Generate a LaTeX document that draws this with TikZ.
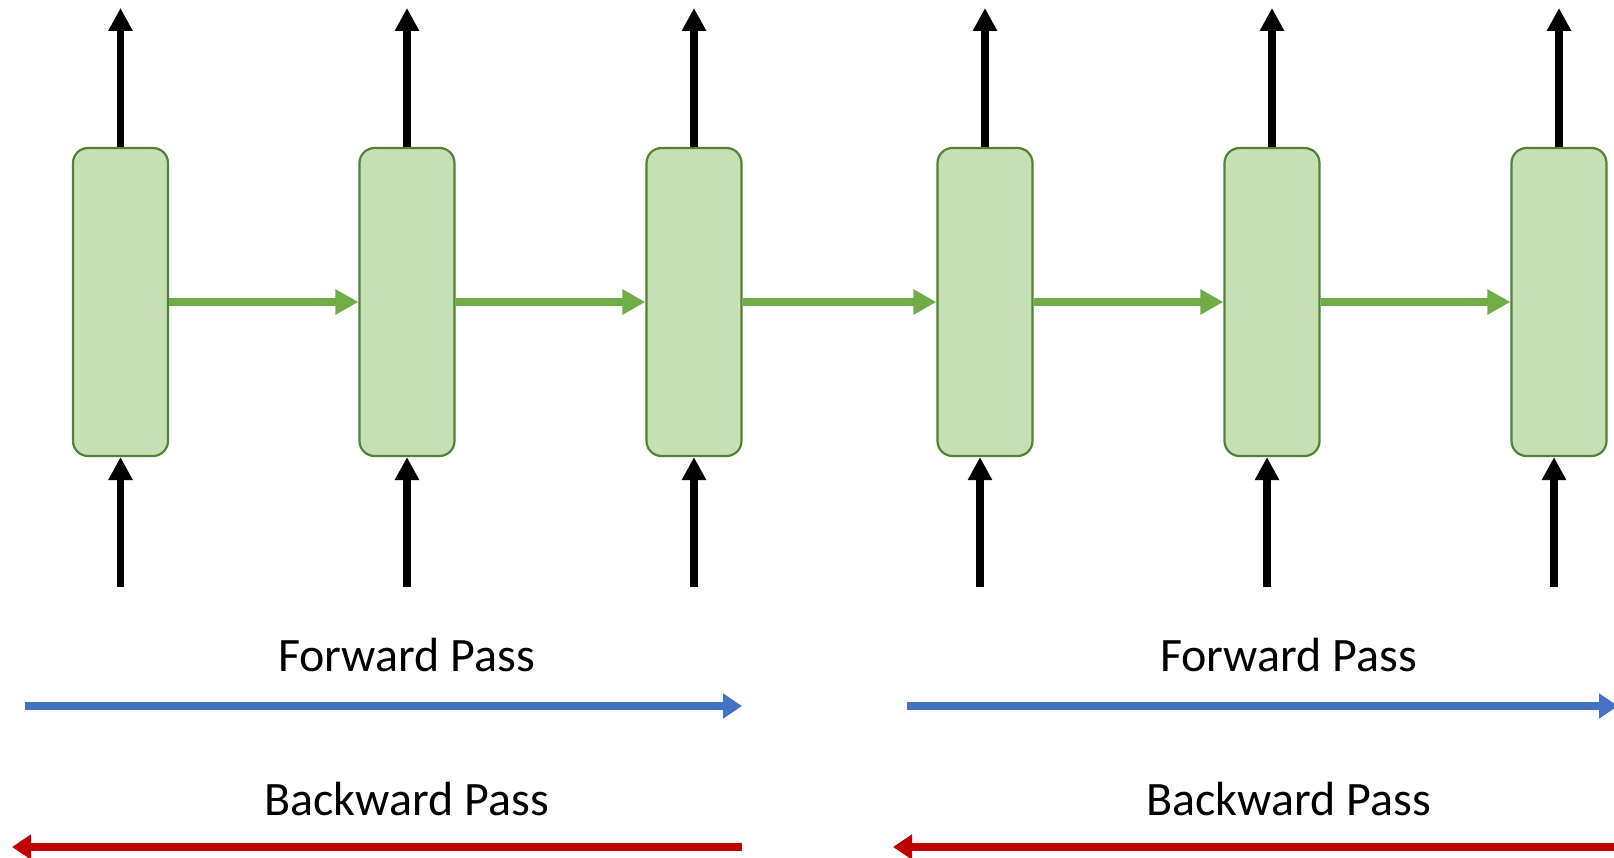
\documentclass[tikz,border=0pt]{standalone}
\usepackage{fontspec}
\setmainfont{Carlito}
\usetikzlibrary{arrows.meta}

\definecolor{zellgruen}{HTML}{C5E0B4}
\definecolor{randgruen}{HTML}{538135}
\definecolor{pfeilgruen}{HTML}{70AD47}
\definecolor{vorblau}{HTML}{4472C4}
\definecolor{rueckrot}{HTML}{C00000}

\begin{document}
\begin{tikzpicture}[x=1pt, y=-1pt]
  \useasboundingbox (0, 0) rectangle (1614, 858);

  % Zellen.
  \tikzstyle{zelle}=[draw=randgruen, fill=zellgruen, line width=2.2pt, rounded corners=15pt,
    minimum width=95pt, minimum height=308pt, inner sep=0pt]
  \tikzstyle{io}=[line width=7.5pt, -{Triangle[width=23pt, length=23pt]}]
  \tikzstyle{zustand}=[pfeilgruen, line width=7.7pt, -{Triangle[width=24pt, length=23pt]}]
  \tikzstyle{pass}=[line width=7.7pt, -{Triangle[width=24pt, length=19pt]}]
  \tikzstyle{beschriftung}=[font=\fontsize{48}{58}\selectfont, inner sep=0pt]

  \node[zelle] (c1) at (120.5, 302) {};
  \node[zelle] (c2) at (407, 302) {};
  \node[zelle] (c3) at (694, 302) {};
  \node[zelle] (c4) at (985, 302) {};
  \node[zelle] (c5) at (1272, 302) {};
  \node[zelle] (c6) at (1559, 302) {};

  % Ausgaben.
  \coordinate (o1) at (120.5, 8);
  \coordinate (o2) at (407, 8);
  \coordinate (o3) at (694, 8);
  \coordinate (o4) at (985, 8);
  \coordinate (o5) at (1272, 8);
  \coordinate (o6) at (1559, 8);

  \draw[io] (c1.north) -- (o1);
  \draw[io] (c2.north) -- (o2);
  \draw[io] (c3.north) -- (o3);
  \draw[io] (c4.north) -- (o4);
  \draw[io] (c5.north) -- (o5);
  \draw[io] (c6.north) -- (o6);

  % Eingaben.
  \coordinate (i1) at (120.5, 587);
  \coordinate (i2) at (407, 587);
  \coordinate (i3) at (694, 587);
  \coordinate (i4) at (980, 587);
  \coordinate (i5) at (1267, 587);
  \coordinate (i6) at (1554, 587);

  \draw[io] (i1) -- (c1.south);
  \draw[io] (i2) -- (c2.south);
  \draw[io] (i3) -- (c3.south);
  \draw[io] (i4) -- (c4.south -| i4);
  \draw[io] (i5) -- (c5.south -| i5);
  \draw[io] (i6) -- (c6.south -| i6);

  % Zustaende.
  \draw[zustand] (c1.east) -- (c2.west);
  \draw[zustand] (c2.east) -- (c3.west);
  \draw[zustand] (c3.east) -- (c4.west);
  \draw[zustand] (c4.east) -- (c5.west);
  \draw[zustand] (c5.east) -- (c6.west);

  % Durchlaeufe.
  \node[beschriftung] (fwd1) at (406.6, 655) {Forward Pass};
  \node[beschriftung] (fwd2) at (1288.7, 655) {Forward Pass};
  \node[beschriftung] (bwd1) at (406.6, 799) {Backward Pass};
  \node[beschriftung] (bwd2) at (1288.7, 799) {Backward Pass};

  \coordinate (f1a) at (25, 706);
  \coordinate (f1b) at (742, 706);
  \coordinate (f2a) at (907, 706);
  \coordinate (f2b) at (1618, 706);
  \coordinate (b1a) at (742, 847);
  \coordinate (b1b) at (12, 847);
  \coordinate (b2a) at (1620, 847);
  \coordinate (b2b) at (893, 847);

  \draw[pass, vorblau] (f1a) -- (f1b);
  \draw[pass, vorblau] (f2a) -- (f2b);
  \draw[pass, rueckrot] (b1a) -- (b1b);
  \draw[pass, rueckrot] (b2a) -- (b2b);
\end{tikzpicture}
\end{document}
